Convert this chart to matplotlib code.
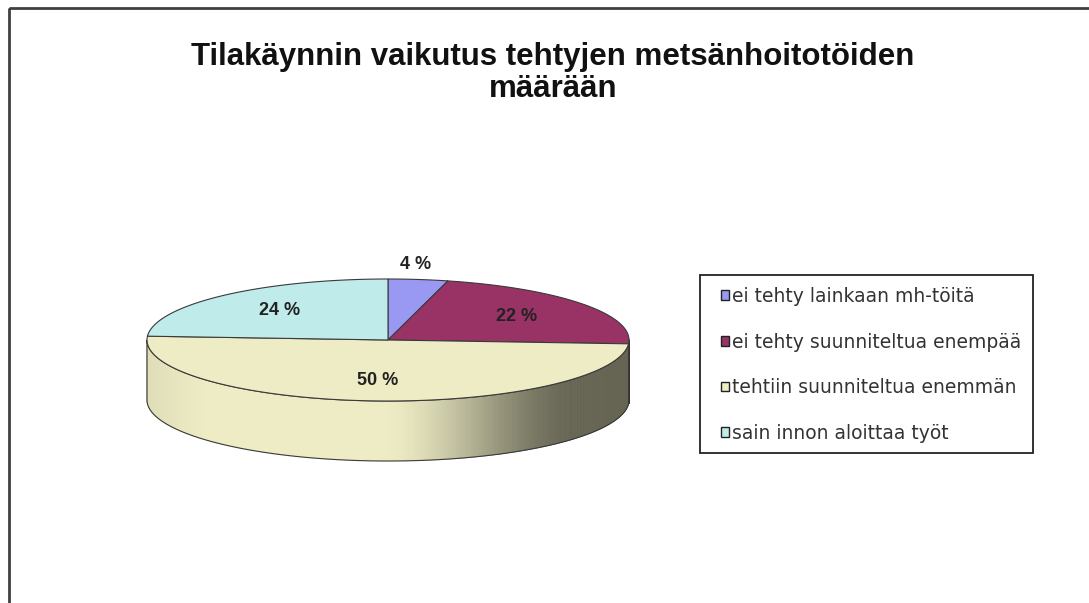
import numpy as np
import matplotlib.pyplot as plt
from matplotlib.patches import Polygon, Patch, Rectangle
from matplotlib.collections import PolyCollection
import matplotlib.colors as mcolors

title = "Tilakäynnin vaikutus tehtyjen metsänhoitotöiden\nmäärään"
categories = ["ei tehty lainkaan mh-töitä", "ei tehty suunniteltua enempää",
              "tehtiin suunniteltua enemmän", "sain innon aloittaa työt"]
values = [4, 22, 50, 24]
labels = ["4 %", "22 %", "50 %", "24 %"]
colors = ["#9999f4", "#993366", "#eeecc4", "#bfebeb"]

W, H = 1089, 603
fig = plt.figure(figsize=(W / 100, H / 100), dpi=100)
ax = fig.add_axes([0, 0, 1, 1])
ax.set_xlim(0, W)
ax.set_ylim(H, 0)
ax.axis("off")

# chart area border (cut off at right and bottom)
ax.add_patch(Rectangle((9, 8), W + 20, H + 20, fill=False, ec="#404040", lw=2))

fig.text(553 / W, 1 - 73 / H, title, ha="center", va="center", fontsize=22.5,
         fontweight="bold", family="Liberation Sans", linespacing=1.12,
         color="#111111")

# pseudo-3D pie
cx, cy, a, b, depth = 388, 340, 241, 61, 60
edge = "#3a3a3a"


def pt(theta, dy=0):
    return cx + a * np.sin(theta), cy - b * np.cos(theta) + dy


def shade(t):
    s = np.clip((t - 0.48) / 0.42, 0, 1)
    s = s * s * (3 - 2 * s)
    f = 1.0 - 0.57 * s
    f *= 1.0 - 0.06 * max(0.0, 1 - t / 0.12)
    return f


fracs = np.array(values) / sum(values)
bounds = np.concatenate([[0], np.cumsum(fracs)]) * 2 * np.pi

# side walls (front half only)
for i, col in enumerate(colors):
    t0, t1 = max(bounds[i], np.pi / 2), min(bounds[i + 1], 1.5 * np.pi)
    if t1 <= t0:
        continue
    th = np.linspace(t0, t1, 300)
    base = np.array(mcolors.to_rgb(col))
    polys, cols = [], []
    for k in range(len(th) - 1):
        x0, y0 = pt(th[k])
        x1, y1 = pt(th[k + 1])
        polys.append([(x0, y0), (x1, y1), (x1, y1 + depth), (x0, y0 + depth)])
        t = ((x0 + x1) / 2 - (cx - a)) / (2 * a)
        cols.append(np.clip(base * shade(t), 0, 1))
    ax.add_collection(PolyCollection(polys, facecolors=cols, edgecolors=cols, lw=0.6))
    xs, ys = pt(th)
    outline = list(zip(xs, ys)) + list(zip(xs[::-1], ys[::-1] + depth))
    ax.add_patch(Polygon(outline, closed=True, fill=False, ec=edge, lw=0.8))

# top face
for i, col in enumerate(colors):
    th = np.linspace(bounds[i], bounds[i + 1], 200)
    xs, ys = pt(th)
    verts = [(cx, cy)] + list(zip(xs, ys))
    ax.add_patch(Polygon(verts, closed=True, fc=col, ec=edge, lw=0.8))

# labels
for i, lab in enumerate(labels):
    mid = (bounds[i] + bounds[i + 1]) / 2
    small = fracs[i] < 0.08
    r = 1.25 if small else 0.66
    x = cx + r * a * np.sin(mid)
    y = cy - r * b * np.cos(mid)
    if small:
        x -= 10
    ax.text(x, y, lab, ha="center", va="center", fontsize=13, fontweight="bold",
            color="#222222", family="Liberation Sans")

# legend
ax.add_patch(Rectangle((700, 275), 333, 178, fill=False, ec="#222222", lw=1.3))
handles = [Patch(fc=c, ec="#222222", lw=1) for c in colors]
leg = fig.legend(handles, categories, loc="upper left",
                 bbox_to_anchor=(721 / W, 1 - 287 / H), frameon=False,
                 prop={"family": "DejaVu Sans", "size": 13.5}, labelcolor="#333333",
                 handlelength=0.42, handleheight=0.42, handletextpad=0.15,
                 labelspacing=1.42, borderpad=0, borderaxespad=0)

fig.savefig("out.png", dpi=100, facecolor="white")
